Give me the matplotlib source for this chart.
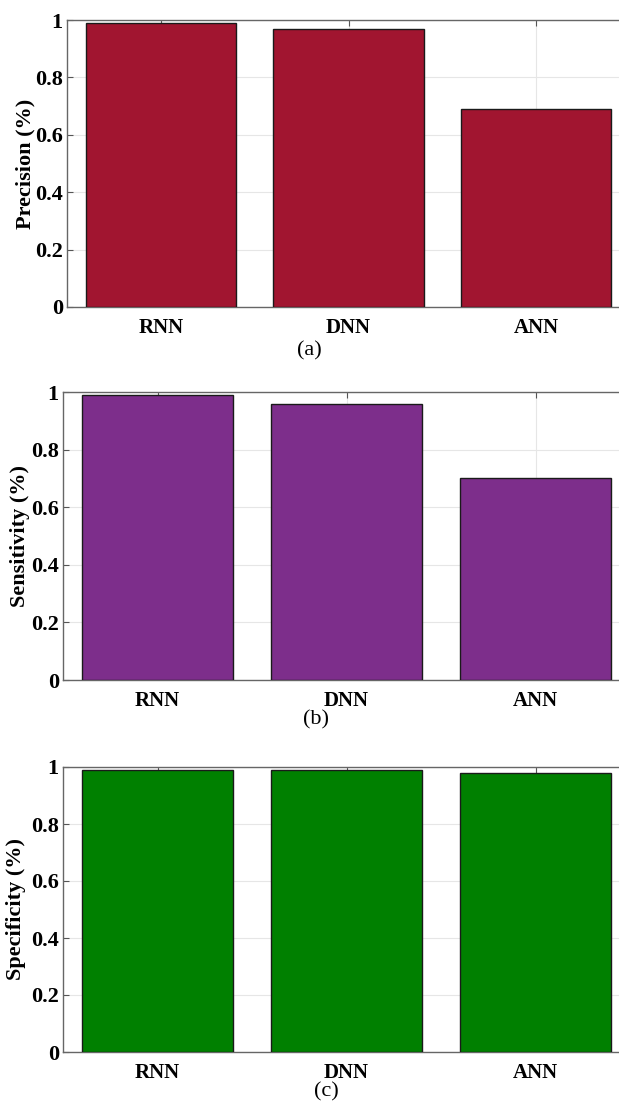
import matplotlib
matplotlib.use("Agg")
import matplotlib.pyplot as plt
import numpy as np

models = ["RNN", "DNN", "ANN"]
precision = [0.99, 0.97, 0.69]
sensitivity = [0.99, 0.96, 0.70]
specificity = [0.99, 0.99, 0.98]
yticks = [0, 0.2, 0.4, 0.6, 0.8, 1]
ytick_labels = ["0", "0.2", "0.4", "0.6", "0.8", "1"]

plt.rcParams['font.family'] = ['Liberation Serif', 'DejaVu Serif']

W, H = 619, 1109
fig = plt.figure(figsize=(W / 100, H / 100), dpi=100)

panels = [
    # (left_px, top_px, right_px, bottom_px, values, color, ylabel, letter, letter_x, letter_y, ylabel_x)
    (67, 20, 630, 307, precision, "#A11530", "Precision (%)", "(a)", 309, 351, 25),
    (63, 392, 630, 680, sensitivity, "#7D2E8B", "Sensitivity (%)", "(b)", 316, 720, 20),
    (63, 767, 630, 1052, specificity, "#008000", "Specificity (%)", "(c)", 326, 1092, 16),
]

for (l, t, r, b, vals, col, ylab, letter, lx, ly, ylx) in panels:
    ax = fig.add_axes([l / W, 1 - b / H, (r - l) / W, (b - t) / H])
    x = np.arange(1, len(models) + 1)
    ax.bar(x, vals, width=0.8, color=col, edgecolor="#1a1a1a", linewidth=1.0, zorder=3)
    ax.set_xlim(0.5, 3.5)
    ax.set_ylim(0, 1)
    ax.set_xticks(x)
    ax.set_xticklabels(models, fontsize=15, fontweight="bold")
    ax.set_yticks(yticks)
    ax.set_yticklabels(ytick_labels, fontsize=16, fontweight="bold")
    ax.grid(True, color="#e6e6e6", linewidth=0.8, zorder=0)
    ax.tick_params(direction="in", length=4, width=0.8, color="#555555",
                   top=True, right=True)
    ax.tick_params(axis="y", pad=3)
    ax.tick_params(axis="x", pad=8)
    for s in ax.spines.values():
        s.set_color("#666666")
        s.set_linewidth(1.0)
    fig.text(ylx / W, 1 - ((t + b) / 2) / H, ylab, rotation=90, ha="center",
             va="center", fontsize=16, fontweight="bold")
    fig.text(lx / W, 1 - ly / H, letter, ha="center", va="center", fontsize=16)

fig.savefig("out.png", dpi=100)
